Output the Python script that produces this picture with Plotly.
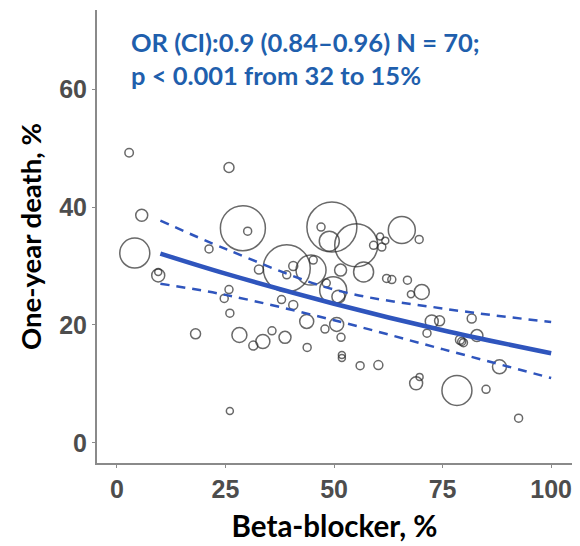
import plotly.graph_objects as go

# Study-level data: beta-blocker use (%), one-year death (%), study weight (sample size)
beta_blocker = [2.8, 25.8, 5.7, 4.1, 9.5, 9.5, 29.0, 30.1, 21.2, 32.7,
                39.1, 40.6, 39.1, 45.2, 44.7, 48.2, 25.8, 24.7, 26.0, 37.9,
                40.6, 43.7, 49.5, 47.0, 48.9, 55.1, 60.6, 61.8, 61.0, 59.1,
                65.6, 69.6, 51.5, 56.8, 62.1, 63.3, 66.9, 49.8, 51.0, 70.2,
                67.7, 47.9, 50.6, 51.6, 43.8, 51.8, 51.8, 56.0, 60.2, 72.5,
                74.3, 71.4, 81.7, 79.0, 79.4, 82.9, 88.1, 68.9, 69.7, 78.3,
                85.0, 92.5, 18.1, 28.2, 31.4, 33.6, 35.7, 38.7, 26.0, 79.8]
death = [49.2, 46.7, 38.6, 32.2, 28.4, 29.0, 36.4, 35.9, 32.9, 29.4,
         29.6, 30.0, 28.5, 31.0, 29.3, 27.1, 26.0, 24.5, 22.0, 24.3,
         23.4, 20.6, 36.6, 36.6, 34.2, 33.5, 35.0, 34.3, 33.2, 33.5,
         36.1, 34.5, 29.3, 29.0, 27.9, 27.7, 27.6, 25.9, 24.8, 25.6,
         25.2, 19.3, 20.1, 17.9, 16.2, 14.9, 14.4, 13.1, 13.2, 20.6,
         20.7, 18.6, 21.1, 17.5, 17.2, 18.2, 12.9, 10.1, 11.2, 8.9,
         9.1, 4.2, 18.5, 18.3, 16.5, 17.2, 19.0, 17.9, 5.4, 17.0]
weight = [720, 1000, 1440, 9000, 1690, 490, 20250, 640, 640, 810,
          22090, 810, 640, 640, 9000, 640, 640, 640, 640, 640,
          810, 1960, 25000, 640, 4000, 18490, 490, 490, 640, 640,
          7290, 640, 1440, 4000, 640, 640, 640, 7290, 1690, 2250,
          490, 640, 1960, 640, 640, 490, 490, 640, 810, 1690,
          1000, 640, 810, 810, 640, 1440, 1960, 1690, 490, 9000,
          640, 640, 1000, 2250, 810, 1960, 640, 1440, 490, 640]

# Meta-regression fit and 95% CI
fit_x = [10, 25, 50, 75, 100]
fit_y = [32.1, 28.7, 23.6, 19.1, 15.2]
ci_upper = [37.7, 32.9, 26.0, 22.8, 20.5]
ci_lower = [27.0, 25.1, 20.8, 15.9, 11.0]

x_ticks = [0, 25, 50, 75, 100]
y_ticks = [0, 20, 40, 60]

blue = "#2f55bd"
fig = go.Figure()
fig.add_trace(go.Scatter(
    x=beta_blocker, y=death, mode="markers",
    marker=dict(size=weight, sizemode="area", sizeref=20, sizemin=2,
                color="rgba(0,0,0,0)",
                line=dict(color="#2a2a2a", width=1.5)),
    hoverinfo="x+y"))
fig.add_trace(go.Scatter(x=fit_x, y=ci_upper, mode="lines", line_shape="spline",
                         line=dict(color=blue, width=2.5, dash="9px,7px")))
fig.add_trace(go.Scatter(x=fit_x, y=ci_lower, mode="lines", line_shape="spline",
                         line=dict(color=blue, width=2.5, dash="9px,7px")))
fig.add_trace(go.Scatter(x=fit_x, y=fit_y, mode="lines", line_shape="spline",
                         line=dict(color=blue, width=4.5)))

axis_common = dict(showgrid=False, zeroline=False, showline=True,
                   linecolor="#8a8a8a", linewidth=2, ticks="outside",
                   ticklen=3, tickwidth=1, tickcolor="#8a8a8a",
                   tickfont=dict(family="Liberation Sans", size=25,
                                 color="#4d4d4d", weight="bold"))

fig.update_layout(
    width=580, height=546,
    margin=dict(l=97, r=8, t=10, b=79),
    paper_bgcolor="white", plot_bgcolor="white",
    showlegend=False,
    xaxis=dict(range=[-4.6, 104.8], tickvals=x_ticks,
               title=dict(text="Beta-blocker, %", standoff=14,
                          font=dict(family="Lato", size=29.5, color="black", weight="bold")),
               **axis_common),
    yaxis=dict(range=[-3.4, 73.4], tickvals=y_ticks,
               title=dict(text="One-year death, %", standoff=10,
                          font=dict(family="Lato", size=27.5, color="black", weight="bold")),
               **axis_common),
    annotations=[dict(
        xref="paper", yref="paper", x=0.067, y=0.967,
        xanchor="left", yanchor="top", align="left", showarrow=False,
        text="OR (CI):0.9 (0.84–0.96) N = 70;<br>p < 0.001 from 32 to 15%",
        font=dict(family="Lato", size=25.5, color="#1f5fad", weight="bold"))],
)

fig.write_html("out.html")
